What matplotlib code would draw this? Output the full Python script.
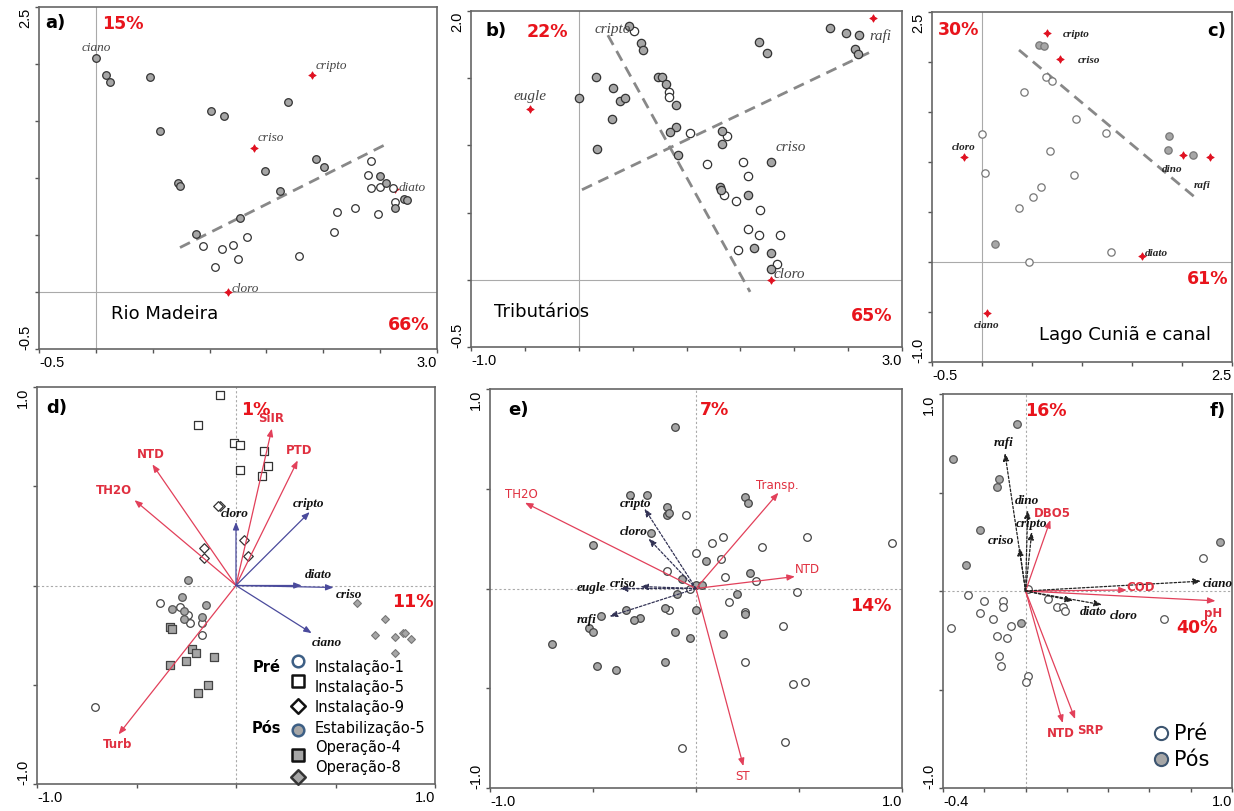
import numpy as np
import matplotlib
matplotlib.use('Agg')
import matplotlib.pyplot as plt

# ---- dados (escores) ----
# a) Rio Madeira
a_pos_x = [0.00, 0.09, 0.12, 0.48, 1.01, 1.13, 0.56, 1.69, 1.94, 2.01, 1.49, 0.72, 0.74, 1.62, 0.88, 1.27, 2.50, 2.55, 2.63, 2.71, 2.74]
a_pos_y = [2.05, 1.90, 1.84, 1.89, 1.59, 1.54, 1.41, 1.67, 1.17, 1.10, 1.06, 0.96, 0.93, 0.89, 0.51, 0.65, 1.02, 0.96, 0.74, 0.82, 0.81]
a_pre_x = [2.42, 2.39, 2.42, 2.50, 2.61, 2.63, 2.28, 2.12, 2.48, 2.09, 1.79, 1.33, 1.21, 1.11, 0.94, 1.25, 1.05]
a_pre_y = [1.15, 1.03, 0.91, 0.92, 0.91, 0.79, 0.74, 0.70, 0.68, 0.53, 0.32, 0.48, 0.41, 0.38, 0.40, 0.29, 0.22]
a_spp = ['ciano', 'cripto', 'criso', 'cloro', 'diato']
a_spp_x = [0.00, 1.90, 1.39, 1.16, 2.63]
a_spp_y = [2.05, 1.90, 1.26, 0.00, 0.90]
a_line_x = [0.74, 2.58]
a_line_y = [0.39, 1.31]

# b) Tributarios
b_pos_x = [0.00, 0.16, 0.32, 0.38, 0.43, 0.31, 0.17, 0.58, 0.60, 0.74, 0.77, 0.81, 0.90, 0.90, 0.85, 0.92, 1.33, 1.33,
           1.31, 1.32, 1.57, 1.63, 1.78, 1.78, 1.78, 1.67, 1.75, 2.33, 2.48, 2.60, 2.56, 2.59, 0.47]
b_pos_y = [1.35, 1.51, 1.43, 1.33, 1.35, 1.20, 0.97, 1.76, 1.71, 1.51, 1.51, 1.46, 1.30, 1.14, 1.10, 0.93, 1.11, 1.01,
           0.69, 0.67, 0.63, 0.24, 0.88, 0.20, 0.08, 1.77, 1.69, 1.87, 1.84, 1.82, 1.72, 1.68, 1.89]
b_pre_x = [0.51, 0.84, 0.84, 1.03, 1.38, 1.19, 1.52, 1.57, 1.35, 1.46, 1.68, 1.57, 1.67, 1.87, 1.48, 1.84]
b_pre_y = [1.85, 1.40, 1.36, 1.09, 1.07, 0.86, 0.88, 0.77, 0.63, 0.59, 0.52, 0.38, 0.33, 0.33, 0.22, 0.12]
b_spp = ['cripto', 'eugle', 'rafi', 'cloro', 'criso']
b_spp_x = [0.47, -0.45, 2.73, 1.78, 1.78]
b_spp_y = [1.89, 1.27, 1.95, 0.00, 0.88]
b_line1_x = [0.03, 2.72]
b_line1_y = [0.67, 1.70]
b_line2_x = [0.27, 1.59]
b_line2_y = [1.82, -0.09]

# c) Lago Cunia e canal
c_pos_x = [0.57, 0.62, 1.87, 1.86, 2.11, 0.13]
c_pos_y = [2.17, 2.16, 1.26, 1.12, 1.07, 0.18]
c_pre_x = [0.64, 0.70, 0.42, 0.94, 1.24, 0.00, 0.68, 0.03, 0.92, 0.59, 0.51, 0.37, 1.29, 0.47]
c_pre_y = [1.85, 1.81, 1.70, 1.43, 1.29, 1.28, 1.11, 0.89, 0.87, 0.75, 0.65, 0.54, 0.10, 0.00]
c_spp = ['cripto', 'criso', 'cloro', 'dino', 'rafi', 'diato', 'ciano']
c_spp_x = [0.65, 0.78, -0.18, 2.01, 2.28, 1.60, 0.05]
c_spp_y = [2.29, 2.03, 1.05, 1.07, 1.05, 0.06, -0.51]
c_line_x = [0.37, 2.15]
c_line_y = [2.12, 0.63]

# d) RDA Rio Madeira
d_inst1_x = [-0.38, -0.28, -0.24, -0.23, -0.17, -0.17, -0.71]
d_inst1_y = [-0.09, -0.11, -0.15, -0.19, -0.19, -0.25, -0.61]
d_inst5_x = [-0.08, -0.19, -0.01, 0.02, 0.14, 0.16, 0.02, 0.13]
d_inst5_y = [0.96, 0.81, 0.72, 0.71, 0.68, 0.60, 0.58, 0.55]
d_inst9_x = [-0.08, -0.09, 0.04, 0.06, -0.16, -0.16]
d_inst9_y = [0.40, 0.40, 0.23, 0.15, 0.19, 0.14]
d_estab5_x = [-0.24, -0.27, -0.32, -0.26, -0.26, -0.15, -0.17]
d_estab5_y = [0.03, -0.06, -0.12, -0.13, -0.17, -0.10, -0.16]
d_oper4_x = [-0.33, -0.32, -0.22, -0.20, -0.25, -0.11, -0.33, -0.14, -0.19]
d_oper4_y = [-0.21, -0.22, -0.32, -0.34, -0.38, -0.36, -0.40, -0.50, -0.54]
d_oper8_x = [0.61, 0.75, 0.70, 0.80, 0.84, 0.85, 0.88, 0.80]
d_oper8_y = [-0.09, -0.17, -0.25, -0.26, -0.24, -0.24, -0.27, -0.34]
d_env = ['SiIR', 'PTD', 'NTD', 'TH2O', 'Turb']
d_env_x = [0.18, 0.31, -0.42, -0.51, -0.59]
d_env_y = [0.79, 0.63, 0.61, 0.43, -0.75]
d_spp = ['cloro', 'cripto', 'diato', 'criso', 'ciano']
d_spp_x = [0.00, 0.37, 0.33, 0.49, 0.38]
d_spp_y = [0.32, 0.37, 0.00, -0.01, -0.24]
legend_d = ['Instalação-1', 'Instalação-5', 'Instalação-9', 'Estabilização-5', 'Operação-4', 'Operação-8']

# e) RDA Tributarios
e_pos_x = [-0.10, -0.32, -0.24, -0.14, -0.14, -0.13, -0.22, -0.50, 0.24, 0.25, 0.05, 0.26, -0.07, 0.00, 0.03, -0.09, 0.20,
           -0.34, -0.46, -0.27, -0.30, -0.15, 0.00, -0.52, -0.50, -0.10, -0.03, 0.13, -0.70, -0.48, -0.39, -0.15, 0.24]
e_pos_y = [0.81, 0.47, 0.47, 0.41, 0.37, 0.38, 0.28, 0.22, 0.46, 0.43, 0.14, 0.08, 0.05, 0.02, 0.02, -0.03, -0.03,
           -0.11, -0.14, -0.15, -0.16, -0.10, -0.11, -0.20, -0.22, -0.22, -0.25, -0.23, -0.28, -0.39, -0.41, -0.37, -0.13]
e_pre_x = [-0.05, 0.08, 0.13, 0.32, 0.54, 0.95, 0.00, 0.12, -0.14, 0.14, 0.29, -0.03, 0.49, 0.16, -0.13, 0.24, 0.42,
           0.24, 0.47, 0.53, 0.43, -0.07]
e_pre_y = [0.37, 0.23, 0.26, 0.21, 0.26, 0.23, 0.18, 0.15, 0.09, 0.06, 0.04, 0.00, -0.02, -0.07, -0.11, -0.12, -0.19,
           -0.37, -0.48, -0.47, -0.77, -0.80]
e_env = ['TH2O', 'Transp.', 'NTD', 'ST']
e_env_x = [-0.83, 0.40, 0.48, 0.23]
e_env_y = [0.43, 0.48, 0.06, -0.89]
e_spp = ['cripto', 'cloro', 'criso', 'eugle', 'rafi']
e_spp_x = [-0.25, -0.23, -0.27, -0.37, -0.42]
e_spp_y = [0.40, 0.25, 0.01, 0.00, -0.14]

# f) RDA Lago Cunia
f_pos_x = [-0.04, -0.35, -0.13, -0.14, -0.22, -0.29, 0.94, -0.02]
f_pos_y = [0.85, 0.67, 0.57, 0.53, 0.31, 0.13, 0.25, -0.16]
f_pre_x = [0.86, -0.28, -0.20, -0.11, -0.11, -0.22, -0.16, -0.36, -0.07, -0.14, -0.09, -0.13, -0.12, 0.01, 0.00,
           0.11, 0.15, 0.18, 0.19, 0.67, 0.01]
f_pre_y = [0.17, -0.02, -0.05, -0.05, -0.08, -0.11, -0.14, -0.19, -0.18, -0.23, -0.24, -0.33, -0.38, -0.43, -0.46,
           -0.04, -0.08, -0.08, -0.10, -0.14, 0.01]
f_env = ['DBO5', 'COD', 'pH', 'NTD', 'SRP']
f_env_x = [0.12, 0.49, 0.92, 0.18, 0.24]
f_env_y = [0.36, 0.005, -0.05, -0.67, -0.65]
f_spp = ['rafi', 'dino', 'cripto', 'criso', 'ciano', 'diato', 'cloro']
f_spp_x = [-0.10, 0.01, 0.03, -0.03, 0.85, 0.23, 0.37]
f_spp_y = [0.70, 0.41, 0.30, 0.22, 0.05, -0.05, -0.07]

# ---- deslocamento dos rotulos (pixels) ----
a_off = {'ciano': (0, 11, 'center'), 'cripto': (4, 10, 'left'), 'criso': (4, 11, 'left'),
         'cloro': (4, 4, 'left'), 'diato': (4, 2, 'left')}
b_off = {'cripto': (2, -3, 'right'), 'eugle': (0, 14, 'center'), 'rafi': (-4, -17, 'left'),
         'cloro': (3, 6, 'left'), 'criso': (5, 15, 'left')}
c_off = {'cripto': (16, 0, 'left'), 'criso': (18, 0, 'left'), 'cloro': (0, 10, 'center'),
         'dino': (-11, -14, 'center'), 'rafi': (-8, -28, 'center'), 'diato': (3, 4, 'left'),
         'ciano': (0, -11, 'center')}
d_env_off = {'SiIR': (-1, 11), 'PTD': (1, 11), 'NTD': (-2, 11), 'TH2O': (-21, 11), 'Turb': (-1, -9)}
d_spp_off = {'cloro': (-1, 9), 'cripto': (-1, 9), 'diato': (17, 11), 'criso': (15, -7), 'ciano': (15, -9)}
e_env_off = {'TH2O': (-4, 9), 'Transp.': (-1, 8), 'NTD': (13, 8), 'ST': (-1, -9)}
e_spp_off = {'cripto': (-9, 6), 'cloro': (-15, 8), 'criso': (-17, 4), 'eugle': (-28, 1), 'rafi': (-23, -3)}
f_env_off = {'DBO5': (2, 8), 'COD': (14, 4), 'pH': (-2, -12), 'NTD': (-2, -10), 'SRP': (15, -10)}
f_spp_off = {'rafi': (-1, 11), 'dino': (-1, 10), 'cripto': (0, 9), 'criso': (-18, 8), 'ciano': (17, -2),
             'diato': (20, -10), 'cloro': (22, -10)}

W, H = 1234, 812
RED = '#e8141c'
ENV = '#e2405a'
GRAY = '#a6a6a6'
SANS = 'DejaVu Sans'
SERIF = 'Liberation Serif'

fig = plt.figure(figsize=(W / 100, H / 100), dpi=100)


def painel(box, xlim, ylim, xstep, ystep, xlab, ylab, dotted):
    x0, y0, x1, y1 = box
    ax = fig.add_axes([x0 / W, 1 - y1 / H, (x1 - x0) / W, (y1 - y0) / H])
    ax.set_xlim(xlim)
    ax.set_ylim(ylim)
    ax.set_xticks(np.arange(xlim[0], xlim[1] + 1e-6, xstep))
    ax.set_yticks(np.arange(ylim[0], ylim[1] + 1e-6, ystep))
    ax.tick_params(direction='out', length=3, width=1, color='#555', labelbottom=False, labelleft=False)
    for s in ax.spines.values():
        s.set_color('#666')
        s.set_linewidth(1.2)
    ls = (0, (2, 2)) if dotted else '-'
    ax.axhline(0, color='#aaa', lw=0.8, ls=ls, zorder=1)
    ax.axvline(0, color='#aaa', lw=0.8, ls=ls, zorder=1)
    kw = dict(xycoords='axes fraction', textcoords='offset pixels', fontsize=10.5, family='Liberation Sans')
    ax.annotate(xlab[0], (0, 0), xytext=(0, -6), ha='left', va='top', **kw)
    ax.annotate(xlab[1], (1, 0), xytext=(0, -6), ha='right', va='top', **kw)
    ax.annotate(ylab[0], (0, 0), xytext=(-7, 0), ha='right', va='bottom', rotation=90, **kw)
    ax.annotate(ylab[1], (0, 1), xytext=(-7, 0), ha='right', va='top', rotation=90, **kw)
    return ax


def especies(ax, nomes, xs, ys, off, size, weight, color):
    ax.scatter(xs, ys, marker=(4, 1, 0), s=28, c='#e01020', lw=0.6, zorder=2)
    for n, x, y in zip(nomes, xs, ys):
        dx, dy, ha = off[n]
        ax.annotate(n, (x, y), xytext=(dx, dy), textcoords='offset pixels', ha=ha, va='center',
                    fontsize=size, family=SERIF, style='italic', weight=weight, color=color, zorder=5)


def setas(ax, nomes, xs, ys, off, color, ls, tcolor, tfont, tsize, tweight, tstyle='normal'):
    for n, x, y in zip(nomes, xs, ys):
        ax.annotate('', xy=(x, y), xytext=(0, 0),
                    arrowprops=dict(arrowstyle='-|>,head_length=0.45,head_width=0.18', color=color,
                                    lw=0.9, ls=ls, shrinkA=0, shrinkB=0), zorder=4)
        dx, dy = off[n]
        ax.annotate(n, (x, y), xytext=(dx, dy), textcoords='offset pixels', ha='center', va='center',
                    fontsize=tsize, family=tfont, weight=tweight, style=tstyle, color=tcolor, zorder=5)


def pct(ax, txt, x, y, ha='center'):
    ax.text(x, y, txt, color=RED, fontsize=12.5, weight='bold', family=SANS, ha=ha, va='center', zorder=6)


def letra(ax, txt, x, y):
    ax.text(x, y, txt, fontsize=13, weight='bold', family=SANS, ha='center', va='center', zorder=6)


def circ(ax, x, y, fill, edge='#333', s=30):
    ax.scatter(x, y, s=s, c=fill, edgecolors=edge, linewidths=0.9, zorder=3)


# ---------------- a) ----------------
ax = painel((39, 8, 437, 350), (-0.5, 3.0), (-0.5, 2.5), 0.5, 0.5, ('-0.5', '3.0'), ('-0.5', '2.5'), False)
ax.plot(a_line_x, a_line_y, ls=(0, (4, 2.5)), color='#888', lw=2, zorder=2)
especies(ax, a_spp, a_spp_x, a_spp_y, a_off, 9.5, 'normal', '#444')
circ(ax, a_pre_x, a_pre_y, 'white')
circ(ax, a_pos_x, a_pos_y, GRAY)
letra(ax, 'a)', -0.36, 2.37)
pct(ax, '15%', 0.24, 2.36)
ax.text(0.13, -0.18, 'Rio Madeira', fontsize=13, family=SANS, ha='left', va='center')
pct(ax, '66%', 2.75, -0.28)

# ---------------- b) ----------------
ax = painel((471, 12, 902, 348), (-1.0, 3.0), (-0.5, 2.0), 0.5, 0.5, ('-1.0', '3.0'), ('-0.5', '2.0'), False)
ax.plot(b_line1_x, b_line1_y, ls=(0, (4, 2.5)), color='#888', lw=2, zorder=2)
ax.plot(b_line2_x, b_line2_y, ls=(0, (4, 2.5)), color='#888', lw=2, zorder=2)
circ(ax, b_pre_x, b_pre_y, 'white', s=36)
circ(ax, b_pos_x, b_pos_y, GRAY, s=36)
especies(ax, b_spp, b_spp_x, b_spp_y, b_off, 11, 'normal', '#444')
letra(ax, 'b)', -0.77, 1.86)
pct(ax, '22%', -0.29, 1.85)
ax.text(-0.79, -0.23, 'Tributários', fontsize=13, family=SANS, ha='left', va='center')
pct(ax, '65%', 2.72, -0.26)

# ---------------- c) ----------------
ax = painel((932, 13, 1232, 363), (-0.5, 2.5), (-1.0, 2.5), 0.5, 0.5, ('-0.5', '2.5'), ('-1.0', '2.5'), False)
ax.plot(c_line_x, c_line_y, ls=(0, (4, 2.5)), color='#888', lw=2, zorder=2)
circ(ax, c_pre_x, c_pre_y, 'white', edge='#777', s=28)
circ(ax, c_pos_x, c_pos_y, GRAY, edge='#777', s=28)
especies(ax, c_spp, c_spp_x, c_spp_y, c_off, 8, 'bold', '#222')
letra(ax, 'c)', 2.35, 2.32)
pct(ax, '30%', -0.23, 2.33)
pct(ax, '61%', 2.26, -0.16)
ax.text(1.43, -0.72, 'Lago Cuniã e canal', fontsize=13, family=SANS, ha='center', va='center')

# ---------------- d) ----------------
ax = painel((37, 388, 435, 785), (-1.0, 1.0), (-1.0, 1.0), 0.5, 0.5, ('-1.0', '1.0'), ('-1.0', '1.0'), True)
ax.scatter(d_inst5_x, d_inst5_y, marker='s', s=30, c='white', edgecolors='#333', lw=0.9, zorder=3)
ax.scatter(d_inst9_x, d_inst9_y, marker='D', s=24, c='white', edgecolors='#333', lw=0.9, zorder=3)
ax.scatter(d_inst1_x, d_inst1_y, marker='o', s=30, c='white', edgecolors='#444', lw=0.9, zorder=3)
ax.scatter(d_estab5_x, d_estab5_y, marker='o', s=30, c=GRAY, edgecolors='#555', lw=0.9, zorder=3)
ax.scatter(d_oper4_x, d_oper4_y, marker='s', s=32, c=GRAY, edgecolors='#444', lw=0.9, zorder=3)
ax.scatter(d_oper8_x, d_oper8_y, marker='D', s=16, c=GRAY, edgecolors='#777', lw=0.8, zorder=3)
setas(ax, d_env, d_env_x, d_env_y, d_env_off, ENV, '-', '#e03040', SANS, 8.5, 'bold')
setas(ax, d_spp, d_spp_x, d_spp_y, d_spp_off, '#4a4a9c', '-', '#111', SERIF, 9.5, 'bold', 'italic')
letra(ax, 'd)', -0.9, 0.9)
pct(ax, '1%', 0.1, 0.89)
pct(ax, '11%', 0.89, -0.08)
# legenda
sym = [('o', 'white', '#3d5f85'), ('s', 'white', '#111'), ('D', 'white', '#111'),
       ('o', GRAY, '#3d5f85'), ('s', GRAY, '#111'), ('D', GRAY, '#333')]
sym_y = [0.311, 0.260, 0.197, 0.137, 0.073, 0.017]
txt_y = [0.297, 0.246, 0.196, 0.143, 0.094, 0.044]
for (m, fc, ec), sy, ty, lab in zip(sym, sym_y, txt_y, legend_d):
    ax.scatter([0.656], [sy], marker=m, s=70 if m != 'D' else 55, c=fc, edgecolors=ec, lw=1.8,
               transform=ax.transAxes, clip_on=False, zorder=6)
    ax.text(0.698, ty, lab, transform=ax.transAxes, fontsize=10.5, family=SANS, va='center', ha='left')
ax.text(0.577, 0.297, 'Pré', transform=ax.transAxes, fontsize=10.5, weight='bold', family=SANS, ha='center', va='center')
ax.text(0.577, 0.143, 'Pós', transform=ax.transAxes, fontsize=10.5, weight='bold', family=SANS, ha='center', va='center')

# ---------------- e) ----------------
ax = painel((490, 390, 902, 789), (-1.0, 1.0), (-1.0, 1.0), 0.5, 0.5, ('-1.0', '1.0'), ('-1.0', '1.0'), True)
circ(ax, e_pre_x, e_pre_y, 'white', edge='#444', s=30)
circ(ax, e_pos_x, e_pos_y, GRAY, edge='#444', s=30)
setas(ax, e_env, e_env_x, e_env_y, e_env_off, ENV, '-', '#e03040', SANS, 8.5, 'normal')
setas(ax, e_spp, e_spp_x, e_spp_y, e_spp_off, '#333355', (0, (2, 1.5)), '#111', SERIF, 9.5, 'bold', 'italic')
letra(ax, 'e)', -0.86, 0.9)
pct(ax, '7%', 0.09, 0.9)
pct(ax, '14%', 0.85, -0.085)

# ---------------- f) ----------------
ax = painel((943, 395, 1232, 789), (-0.4, 1.0), (-1.0, 1.0), 0.2, 0.5, ('-0.4', '1.0'), ('-1.0', '1.0'), True)
circ(ax, f_pre_x, f_pre_y, 'white', edge='#555', s=30)
circ(ax, f_pos_x, f_pos_y, GRAY, edge='#555', s=30)
setas(ax, f_env, f_env_x, f_env_y, f_env_off, ENV, '-', '#e03040', SANS, 8.5, 'bold')
setas(ax, f_spp, f_spp_x, f_spp_y, f_spp_off, '#222', (0, (2, 1.5)), '#111', SERIF, 9.5, 'bold', 'italic')
letra(ax, 'f)', 0.93, 0.92)
pct(ax, '16%', 0.10, 0.92)
pct(ax, '40%', 0.83, -0.185)
for sy, lab, fc in zip([0.139, 0.074], ['Pré', 'Pós'], ['white', GRAY]):
    ax.scatter([0.755], [sy], s=90, c=fc, edgecolors='#3d5570', lw=1.5, transform=ax.transAxes, zorder=6)
    ax.text(0.80, sy, lab, transform=ax.transAxes, fontsize=15, family=SANS, va='center', ha='left')

plt.savefig('out.png', dpi=100)
